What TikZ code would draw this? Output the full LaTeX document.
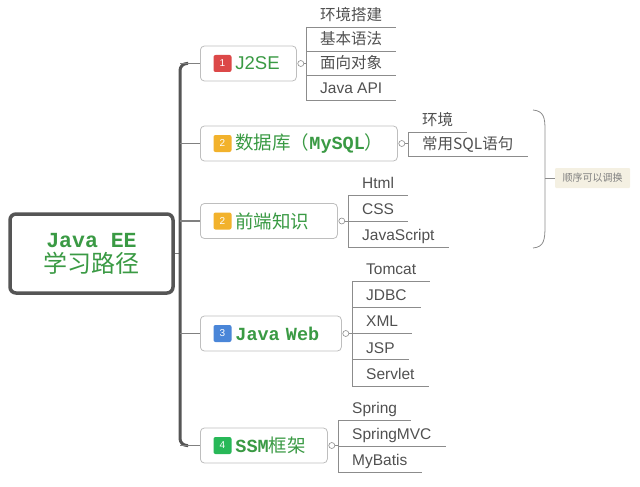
\documentclass[tikz,border=0pt]{standalone}
\usepackage{fontspec}
\setmainfont{Liberation Sans}
\newfontfamily\cjk{Noto Sans CJK SC}
\newfontfamily\mono{Liberation Mono}
\usepackage{xcolor}
\definecolor{mapgreen}{RGB}{58,154,68}
\definecolor{trunkgray}{RGB}{85,85,85}
\definecolor{linegray}{RGB}{140,140,140}
\definecolor{boxgray}{RGB}{190,190,190}
\definecolor{leaftext}{RGB}{80,80,80}
\definecolor{badgered}{RGB}{220,72,72}
\definecolor{badgeorange}{RGB}{242,178,44}
\definecolor{badgeblue}{RGB}{74,134,216}
\definecolor{badgegreen}{RGB}{40,184,88}
\definecolor{notefill}{RGB}{244,240,226}
\usetikzlibrary{positioning}
\tikzset{%
    rootbox/.style={draw=trunkgray, line width=3.5pt, rounded corners=6pt, fill=white,
        minimum width=163pt, minimum height=79pt, align=center, text=mapgreen,
        font=\fontsize{22}{25}\selectfont},
    topic/.style={draw=boxgray, line width=0.8pt, rounded corners=4pt, fill=white,
        anchor=west, minimum height=35pt, inner xsep=13pt, align=left, text=mapgreen,
        font=\fontsize{18.5}{20}\selectfont},
    badge/.style={rounded corners=2pt, minimum width=18pt, minimum height=17pt,
        inner sep=0pt, text=white, font=\fontsize{10}{10}\selectfont},
    knob/.style={circle, draw=linegray, fill=white, line width=0.6pt,
        minimum size=6pt, inner sep=0pt},
    leaf/.style={anchor=south west, inner xsep=14pt, inner ysep=0pt, text height=12pt,
        text depth=6.5pt, text=leaftext, font=\fontsize{15.5}{18}\selectfont},
    leafline/.style={draw=linegray, line width=0.8pt},
    trunk/.style={draw=trunkgray, line width=3pt, rounded corners=7pt},
    branch/.style={draw=gray, line width=1.4pt},
    note/.style={fill=notefill, rounded corners=1pt, minimum width=75pt, minimum height=20pt,
        inner sep=0pt, text=gray, font=\cjk\fontsize{10}{12}\selectfont}
}

\begin{document}
\begin{tikzpicture}[x=1pt,y=-1pt]
    \useasboundingbox (0,0) rectangle (640,487);
    % root and main topics
    \node[rootbox] (root) at (91.5,253.5) {{\mono\bfseries\fontsize{21.5}{25}\selectfont Java EE}\\{\cjk\fontsize{24}{25}\selectfont 学习路径}};
    \node[topic, text width=70pt] (j2se) at (200,63.5) {\hspace*{22pt}J2SE};
    \node[topic, text width=171pt] (db) at (200,143.5) {\hspace*{22pt}{\cjk 数据库（}{\mono\bfseries MySQL}{\cjk ）}};
    \node[topic, text width=111pt] (fe) at (200,221) {\hspace*{22pt}{\cjk 前端知识}};
    \node[topic, text width=115pt] (web) at (200,333.5) {\hspace*{22pt}{\mono\bfseries Java Web}};
    \node[topic, text width=101pt] (ssm) at (200,445.5) {\hspace*{22pt}{\mono\bfseries SSM}{\cjk 框架}};
    \node[badge, fill=badgered] (n1) at ([xshift=22.5pt]j2se.west) {1};
    \node[badge, fill=badgeorange] (n2) at ([xshift=22.5pt]db.west) {2};
    \node[badge, fill=badgeorange] (n3) at ([xshift=22.5pt]fe.west) {2};
    \node[badge, fill=badgeblue] (n4) at ([xshift=22.5pt]web.west) {3};
    \node[badge, fill=badgegreen] (n5) at ([xshift=22.5pt]ssm.west) {4};

    % trunk
    \coordinate (tr) at (180,0);
    \draw[branch] (root.east) -- (root.east -| tr);
    \draw[trunk] ([xshift=8pt]j2se.west -| tr) -- (j2se.west -| tr) -- (ssm.west -| tr) -- ([xshift=8pt]ssm.west -| tr);
    \foreach \b in {j2se,db,fe,web,ssm}
        \draw[branch] (\b.west -| tr) -- (\b.west);

    % J2SE
    \foreach \t [count=\i] in {{\cjk 环境搭建},{\cjk 基本语法},{\cjk 面向对象},Java API}
        \node[leaf] (a\i) at (306,{27+24.3*(\i-1)}) {\t};
    \foreach \i in {1,...,4}
        \draw[leafline] (a\i.south west) -- (a\i.south east);
    \draw[leafline] (a1.south west) -- (a4.south west);
    \node[knob] (k1) at ([xshift=4pt]j2se.east) {};
    \draw[leafline] (k1) -- (k1 -| a1.south west);

    % database
    \foreach \t [count=\i] in {{\cjk 环境},{\cjk 常用SQL语句}}
        \node[leaf] (b\i) at (408,{132+24*(\i-1)}) {\t};
    \foreach \i in {1,2}
        \draw[leafline] (b\i.south west) -- (b\i.south east);
    \draw[leafline] (b1.south west) -- (b2.south west);
    \node[knob] (k2) at ([xshift=4pt]db.east) {};
    \draw[leafline] (k2) -- (k2 -| b1.south west);

    % front end
    \foreach \t [count=\i] in {Html,CSS,JavaScript}
        \node[leaf] (c\i) at (348,{195+26*(\i-1)}) {\t};
    \foreach \i in {1,...,3}
        \draw[leafline] (c\i.south west) -- (c\i.south east);
    \draw[leafline] (c1.south west) -- (c3.south west);
    \node[knob] (k3) at ([xshift=4pt]fe.east) {};
    \draw[leafline] (k3) -- (k3 -| c1.south west);

    % java web
    \foreach \t [count=\i] in {Tomcat,JDBC,XML,JSP,Servlet}
        \node[leaf] (d\i) at (352,{281+26.25*(\i-1)}) {\t};
    \foreach \i in {1,...,5}
        \draw[leafline] (d\i.south west) -- (d\i.south east);
    \draw[leafline] (d1.south west) -- (d5.south west);
    \node[knob] (k4) at ([xshift=4pt]web.east) {};
    \draw[leafline] (k4) -- (k4 -| d1.south west);

    % ssm
    \foreach \t [count=\i] in {Spring,SpringMVC,MyBatis}
        \node[leaf] (e\i) at (338,{420+26*(\i-1)}) {\t};
    \foreach \i in {1,...,3}
        \draw[leafline] (e\i.south west) -- (e\i.south east);
    \draw[leafline] (e1.south west) -- (e3.south west);
    \node[knob] (k5) at ([xshift=4pt]ssm.east) {};
    \draw[leafline] (k5) -- (k5 -| e1.south west);

    % summary brace
    \coordinate (tip) at (545,178);
    \draw[leafline] (533,110) .. controls (544,111) and (545,118) .. (545,130) -- (tip) -- (545,226) .. controls (545,240) and (544,247) .. (533,248);
    \node[note] (note) at (592.5,178) {顺序可以调换};
    \draw[leafline] (tip) -- (note.west);
\end{tikzpicture}
\end{document}
